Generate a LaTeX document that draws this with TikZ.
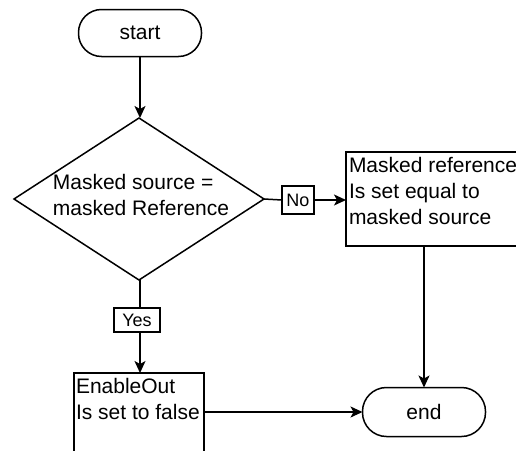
\documentclass[tikz,border=0pt]{standalone}
\usepackage{fontspec}
\setmainfont{Liberation Sans}
\usetikzlibrary{arrows.meta,shapes.geometric}
\begin{document}
\begin{tikzpicture}[x=1pt,y=-1pt,
  every node/.style={font=\fontsize{21}{26}\selectfont, inner sep=0pt, outer sep=0pt},
  ln/.style={line width=1.5pt, draw=black},
  arr/.style={ln, -{Stealth[length=12pt,width=11pt,inset=3pt]}},
  term/.style={ln, rectangle, rounded corners=23pt, minimum width=123pt, minimum height=47pt},
  procbox/.style={ln, rectangle},
  tag/.style={ln, rectangle, fill=white, font=\fontsize{18}{20}\selectfont}
]
\useasboundingbox (0,0) rectangle (516,450);
\begin{scope}
\clip (0,0) rectangle (516,450);
\node[term] (start) at (140,33) {start};
\node[ln, diamond, minimum width=250pt, minimum height=162pt, aspect=1.54] (dec) at (139,199) {};
\node[align=left, anchor=center] (dectext) at (141,195) {Masked source =\\masked Reference};
\node[procbox, minimum width=184pt, minimum height=94pt] (ref) at (438,199) {};
\node[align=left, anchor=north west] (reftext) at (349,157) {Masked reference\\Is set equal to\\masked source};
\node[term, minimum height=49pt, rounded corners=24pt] (end) at (424,412) {end};
\node[procbox, minimum width=130pt, minimum height=82pt] (en) at (139,414) {};
\node[align=left, anchor=north west] (entext) at (76,378) {EnableOut\\Is set to false};
\node[tag, minimum width=32pt, minimum height=28pt] (no) at (298,200) {No};
\node[tag, minimum width=46pt, minimum height=24pt] (yes) at (137,320) {Yes};

\draw[arr] (start.south) -- (start.south |- dec.north);
\draw[ln] (dec.east) -- (no.west);
\draw[arr] (no.east) -- (ref.west |- no.east);
\draw[ln] (dec.south -| start.south) -- (yes.north -| start.south);
\draw[arr] (yes.south -| start.south) -- (en.north -| start.south);
\draw[arr] (end.north |- ref.south) -- (end.north);
\draw[arr] (en.east |- end.west) -- (end.west);
\end{scope}
\end{tikzpicture}
\end{document}
